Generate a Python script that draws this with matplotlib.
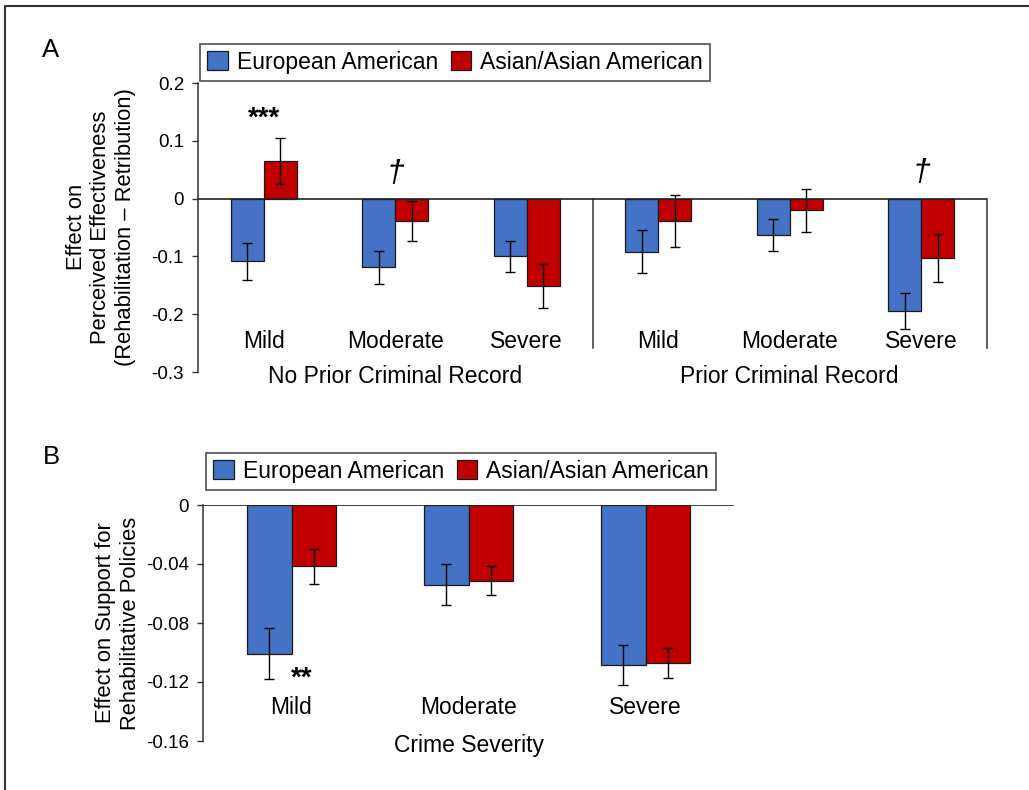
import matplotlib.pyplot as plt
import numpy as np
from matplotlib.lines import Line2D

plt.rcParams['font.family'] = ['Liberation Sans', 'DejaVu Sans']

severity = ['Mild', 'Moderate', 'Severe']
records = ['No Prior Criminal Record', 'Prior Criminal Record']
groups = ['European American', 'Asian/Asian American']
blue, red = '#4472C4', '#C00000'

# panel A: perceived effectiveness, no prior record then prior record
eff_ea = [-0.108, -0.119, -0.100, -0.092, -0.063, -0.194]
eff_aa = [0.065, -0.039, -0.152, -0.038, -0.020, -0.103]
eff_ea_se = [0.032, 0.028, 0.027, 0.037, 0.028, 0.031]
eff_aa_se = [0.040, 0.035, 0.038, 0.045, 0.037, 0.041]
eff_marks = ['***', '\u2020', '', '', '', '\u2020']
eff_mark_y = [0.139, 0.043, 0, 0, 0, 0.045]

# panel B: support for rehabilitative policies
sup_ea = [-0.101, -0.054, -0.1085]
sup_aa = [-0.0415, -0.0512, -0.1072]
sup_ea_se = [0.0173, 0.0138, 0.0134]
sup_aa_se = [0.0120, 0.0096, 0.0102]

W, H = 1029, 790
fig = plt.figure(figsize=(W / 100, H / 100), dpi=100)

def px_axes(x0, x1, y0, y1):
    return fig.add_axes([x0 / W, 1 - y1 / H, (x1 - x0) / W, (y1 - y0) / H])

def style(ax):
    for s in ['top', 'right', 'bottom']:
        ax.spines[s].set_visible(False)
    ax.spines['left'].set_linewidth(1.1)
    ax.spines['left'].set_color('#333333')
    ax.tick_params(axis='y', direction='out', length=4, width=1, labelsize=13.5, pad=6, color='#333333')
    ax.set_xticks([])
    ax.axhline(0, color='#222222', lw=1.2, zorder=4)

def bars(ax, x, a, b, ea, eb, w):
    ax.bar(x - w / 2, a, w, color=blue, edgecolor='#1a1a1a', lw=0.9, label=groups[0], zorder=2)
    ax.bar(x + w / 2, b, w, color=red, edgecolor='#1a1a1a', lw=0.9, label=groups[1], zorder=2)
    ax.errorbar(x - w / 2, a, yerr=ea, fmt='none', ecolor='black', elinewidth=1, capsize=3.5, capthick=1, zorder=3)
    ax.errorbar(x + w / 2, b, yerr=eb, fmt='none', ecolor='black', elinewidth=1, capsize=3.5, capthick=1, zorder=3)

def legend(ax, x0, y0):
    ax.legend(loc='upper left', bbox_to_anchor=(x0 / W, 1 - y0 / H), bbox_transform=fig.transFigure,
              ncol=2, fontsize=16.5, frameon=True, fancybox=False, edgecolor='#222222',
              borderpad=0.3, handlelength=0.9, handleheight=0.9, handletextpad=0.4,
              columnspacing=0.55, borderaxespad=0).get_frame().set_linewidth(1.2)

# ---- panel A
axA = px_axes(198, 987, 83, 372)
xa = np.arange(6)
bars(axA, xa, eff_ea, eff_aa, eff_ea_se, eff_aa_se, 0.25)
axA.set_xlim(-0.5, 5.5)
axA.set_ylim(-0.3, 0.2)
axA.set_yticks([0.2, 0.1, 0, -0.1, -0.2, -0.3])
axA.set_yticklabels(['0.2', '0.1', '0', '-0.1', '-0.2', '-0.3'])
style(axA)
for xv in [2.5, 5.5]:
    axA.axvline(xv, ymin=0.083, ymax=0.6, color='#333333', lw=1.1, clip_on=False)
for i in range(6):
    axA.text(xa[i], 0.104, severity[i % 3], transform=axA.get_xaxis_transform(),
             ha='center', va='center', fontsize=16.5)
    if eff_marks[i] == '***':
        axA.text(xa[i], eff_mark_y[i], eff_marks[i], ha='center', va='center', fontsize=20, fontweight='bold')
    elif eff_marks[i]:
        axA.text(xa[i], eff_mark_y[i], eff_marks[i], ha='center', va='center', fontsize=23, style='italic')
for j, r in enumerate(records):
    axA.text(1 + 3 * j, -0.017, r, transform=axA.get_xaxis_transform(),
             ha='center', va='center', fontsize=16.5)
legend(axA, 200, 44)
fig.text(101 / W, 1 - 227 / H, 'Effect on\nPerceived Effectiveness\n(Rehabilitation \u2013 Retribution)',
         rotation=90, ha='center', va='center', fontsize=15.8, linespacing=1.22)

# ---- panel B
axB = px_axes(203, 734, 505, 741)
xb = np.arange(3)
bars(axB, xb, sup_ea, sup_aa, sup_ea_se, sup_aa_se, 0.25)
axB.set_xlim(-0.5, 2.5)
axB.set_ylim(-0.16, 0)
axB.set_yticks([0, -0.04, -0.08, -0.12, -0.16])
axB.set_yticklabels(['0', '-0.04', '-0.08', '-0.12', '-0.16'])
style(axB)
for i in range(3):
    axB.text(xb[i], 0.14, severity[i], transform=axB.get_xaxis_transform(),
             ha='center', va='center', fontsize=16.5)
axB.text(xb[0] + 0.06, -0.1175, '**', ha='center', va='center', fontsize=20, fontweight='bold')
axB.text(1, -0.017, 'Crime Severity', transform=axB.get_xaxis_transform(),
         ha='center', va='center', fontsize=16.5)
legend(axB, 206, 453)
fig.text(118 / W, 1 - 623 / H, 'Effect on Support for\nRehabilitative Policies',
         rotation=90, ha='center', va='center', fontsize=15.8, linespacing=1.22)

# panel letters and outer frame
fig.text(51 / W, 1 - 50 / H, 'A', ha='center', va='center', fontsize=18.5)
fig.text(51 / W, 1 - 457 / H, 'B', ha='center', va='center', fontsize=18.5)
fig.add_artist(Line2D([5 / W, 5 / W, 1], [0, 1 - 6 / H, 1 - 6 / H], transform=fig.transFigure,
                      color='#333333', lw=1.5))

fig.savefig('out.png', dpi=100)
